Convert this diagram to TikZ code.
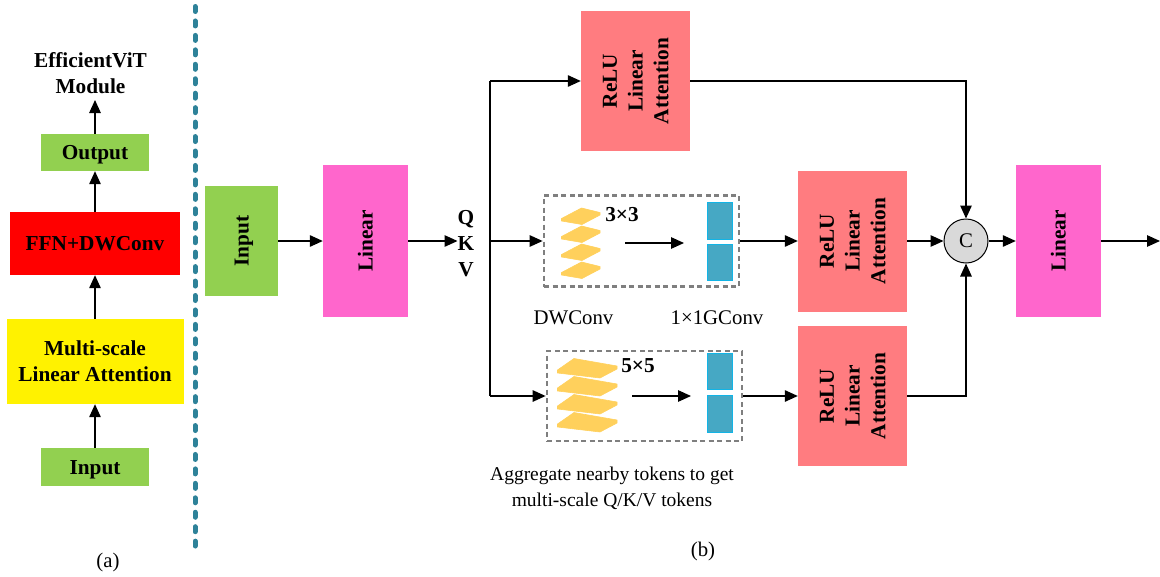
\documentclass[tikz,border=0pt]{standalone}
\usepackage{fontspec}
\setmainfont{Liberation Serif}
\usetikzlibrary{arrows.meta,calc}
\definecolor{grn}{HTML}{92D050}
\definecolor{mag}{HTML}{FF66CC}
\definecolor{sal}{HTML}{FF7C80}
\definecolor{plate}{HTML}{FFD05C}
\definecolor{tealb}{HTML}{46A8C4}
\definecolor{cyanb}{HTML}{12B4E6}
\definecolor{divd}{HTML}{2E8299}
\definecolor{dashg}{HTML}{7F7F7F}
\newcommand{\vtext}[1]{\hspace*{4pt}\rotatebox{90}{\begin{tabular}{@{}c@{}}#1\end{tabular}}}
\newcommand{\smallplates}[2]{\filldraw[plate, line width=0.6pt, line join=round] ($(#1,#2)+(-19.5,2.5)$) -- ($(#1,#2)+(0.5,-8)$) -- ($(#1,#2)+(19,-3.5)$) -- ($(#1,#2)+(19,-1)$) -- ($(#1,#2)+(1,8.5)$) -- ($(#1,#2)+(-19.5,5)$) -- cycle;}
\newcommand{\bigplates}[2]{\filldraw[plate, line width=0.6pt, line join=round] ($(#1,#2)+(-29.5,2)$) -- ($(#1,#2)+(-13,-9.5)$) -- ($(#1,#2)+(30,-2)$) -- ($(#1,#2)+(30,1)$) -- ($(#1,#2)+(13,10)$) -- ($(#1,#2)+(-29.5,5)$) -- cycle;}
\tikzset{
  every node/.style={font=\fontsize{20.8}{25.5}\selectfont, inner sep=0pt, align=center},
  blk/.style={font=\fontsize{21.3}{25.8}\selectfont\bfseries},
  flat/.style={blk, minimum width=#1},
  lowered/.style={text height=16pt, text depth=2pt},
  arr/.style={line width=1.3pt, black, -{Triangle[length=13pt,width=11.5pt]}},
  lin/.style={line width=1.3pt, black},
  dbox/.style={draw=dashg, line width=2.8pt, dash pattern=on 5pt off 3.5pt},
  gconv/.style={fill=tealb, draw=cyanb, line width=0.8pt, minimum width=25pt, minimum height=36.5pt},
}
\begin{document}
\begin{tikzpicture}[x=1pt,y=-1pt]
\useasboundingbox (0,0) rectangle (1160,576);
% left column
\node[flat=108pt, minimum height=38pt, fill=grn, lowered] (inL) at (95,467) {Input};
\node[flat=177pt, minimum height=85pt, fill=yellow] (msla) at (95,361.5) {Multi-scale\\Linear Attention};
\node[flat=170pt, minimum height=63pt, fill=red] (ffn) at (95,243.5) {FFN+DWConv};
\node[flat=108pt, minimum height=37pt, fill=grn, lowered] (outL) at (95,152.5) {Output};
\node[blk] (title) at (90.5,73.5) {EfficientViT\\Module};
\coordinate (titleIn) at (95,100);
\draw[arr] (inL) -- (msla);
\draw[arr] (msla) -- (ffn);
\draw[arr] (ffn) -- (outL);
\draw[arr] (outL) -- (titleIn);
\node (capa) at (108,562) {(a)};
% divider
\coordinate (divtop) at (195,6.5);
\coordinate (divbot) at (195,546);
\draw[divd, line width=5pt, line cap=round, dash pattern=on 5pt off 9.45pt] (divtop) -- (divbot);
% right part
\node[flat=73pt, minimum height=110pt, fill=grn] (inR) at (241.5,241) {\vtext{Input}};
\node[flat=85pt, minimum height=152pt, fill=mag] (lin1) at (365.5,241) {\vtext{Linear}};
\node[blk] (qkv) at (466,243.5) {Q\\K\\V};
\coordinate (busTop) at (490,81);
\coordinate (busMid) at (490,241);
\coordinate (busBot) at (490,396);
\node[flat=109pt, minimum height=140pt, fill=sal] (att1) at (635.5,81) {\vtext{ReLU\\Linear\\Attention}};
\node[flat=109pt, minimum height=141pt, fill=sal] (att2) at (852.5,241) {\vtext{ReLU\\Linear\\Attention}};
\node[flat=109pt, minimum height=140pt, fill=sal] (att3) at (852.5,396) {\vtext{ReLU\\Linear\\Attention}};
\node[dbox, minimum width=195pt, minimum height=91pt] (box1) at (641.5,241) {};
\node[dbox, minimum width=195pt, minimum height=90pt] (box2) at (644.5,396) {};
\smallplates{581}{270}\smallplates{581}{252}\smallplates{581}{234}\smallplates{581}{216}
\bigplates{587}{422}\bigplates{587}{404}\bigplates{587}{386}\bigplates{587}{368}
\node[gconv] (g1a) at (719.5,221) {};
\node[gconv] (g1b) at (719.5,262.5) {};
\node[gconv] (g2a) at (719.5,371.5) {};
\node[gconv] (g2b) at (719.5,414) {};
\coordinate (a1s) at (625,243);
\coordinate (a1e) at (684,243);
\coordinate (a2s) at (632,396);
\coordinate (a2e) at (691,396);
\draw[arr] (a1s) -- (a1e);
\draw[arr] (a2s) -- (a2e);
\node[blk] (k3) at (622,215) {3×3};
\node[blk] (k5) at (638,366) {5×5};
\node (dw) at (573.5,318) {DWConv};
\node (gc) at (717,318) {1×1GConv};
\node[font=\fontsize{19.5}{26}\selectfont] (agg) at (612,488.5) {Aggregate nearby tokens to get\\multi-scale Q/K/V tokens};
\node (capb) at (703,551.5) {(b)};
\node[circle, draw=black, line width=1pt, fill=black!15, minimum size=44pt] (cc) at (966,241) {C};
\node[flat=85pt, minimum height=152pt, fill=mag] (lin2) at (1058.5,241) {\vtext{Linear}};
\coordinate (outEnd) at (1160,241);
\coordinate (cTop) at (att1.east -| cc.north);
\coordinate (cBot) at (att3.east -| cc.south);
\draw[arr] (inR) -- (lin1);
\draw[arr] (lin1) -- (qkv.west |- lin1);
\draw[lin] (busTop) -- (busBot);
\draw[arr] (busTop) -- (att1);
\draw[arr] (busMid) -- (box1);
\draw[arr] (busBot) -- (box2);
\draw[arr] (box1) -- (att2);
\draw[arr] (box2) -- (att3);
\draw[arr] (att2) -- (cc);
\draw[arr] (att1) -- (cTop) -- (cc);
\draw[arr] (att3) -- (cBot) -- (cc);
\draw[arr] (cc) -- (lin2);
\draw[arr] (lin2) -- (outEnd);
\end{tikzpicture}
\end{document}
